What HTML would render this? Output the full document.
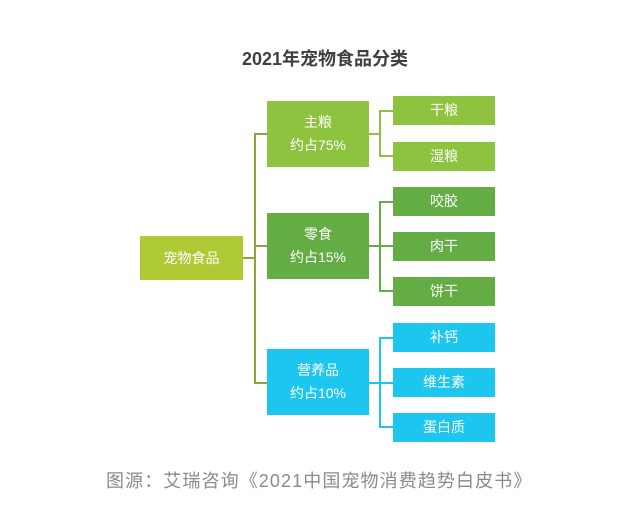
<!DOCTYPE html>
<html><head><meta charset="utf-8"><style>
html,body{margin:0;padding:0;background:#fff;width:629px;height:519px;overflow:hidden;position:relative;font-family:"Liberation Sans","Noto Sans CJK SC",sans-serif}
.b{position:absolute;color:#fff;display:flex;align-items:center;justify-content:center;text-align:center;font-size:14px;line-height:23px}
.l{position:absolute}
</style></head><body>
<div style="position:absolute;left:0;width:629px;top:45px;text-align:center;font-size:18px;font-weight:bold;color:#404040;padding-left:21px;box-sizing:border-box">2021年宠物食品分类</div>

<div class="b" style="left:140px;top:236px;width:103px;height:44px;background:#aecb35">宠物食品</div>

<div class="l" style="left:243px;top:257px;width:12px;height:2px;background:#8aa73a"></div>
<div class="l" style="left:254px;top:133px;width:2px;height:251px;background:#8aa73a"></div>
<div class="l" style="left:254px;top:133px;width:13px;height:2px;background:#8aa73a"></div>
<div class="l" style="left:254px;top:245px;width:13px;height:2px;background:#8aa73a"></div>
<div class="l" style="left:254px;top:382px;width:13px;height:2px;background:#8aa73a"></div>

<div class="b" style="left:267px;top:101px;width:102px;height:66px;background:#8dc33f">主粮<br>约占75%</div>
<div class="b" style="left:267px;top:213px;width:102px;height:66px;background:#64ad45">零食<br>约占15%</div>
<div class="b" style="left:267px;top:349px;width:102px;height:66px;background:#1dc6ee">营养品<br>约占10%</div>

<div class="l" style="left:369px;top:133px;width:11px;height:2px;background:#8dc33f"></div>
<div class="l" style="left:379px;top:110px;width:2px;height:47px;background:#8dc33f"></div>
<div class="l" style="left:379px;top:110px;width:14px;height:2px;background:#8dc33f"></div>
<div class="l" style="left:379px;top:155px;width:14px;height:2px;background:#8dc33f"></div>

<div class="l" style="left:369px;top:245px;width:24px;height:2px;background:#64ad45"></div>
<div class="l" style="left:379px;top:201px;width:2px;height:91px;background:#64ad45"></div>
<div class="l" style="left:379px;top:201px;width:14px;height:2px;background:#64ad45"></div>
<div class="l" style="left:379px;top:290px;width:14px;height:2px;background:#64ad45"></div>

<div class="l" style="left:369px;top:382px;width:24px;height:2px;background:#1dc6ee"></div>
<div class="l" style="left:379px;top:337px;width:2px;height:91px;background:#1dc6ee"></div>
<div class="l" style="left:379px;top:337px;width:14px;height:2px;background:#1dc6ee"></div>
<div class="l" style="left:379px;top:426px;width:14px;height:2px;background:#1dc6ee"></div>

<div class="b" style="left:393px;top:96px;width:102px;height:29px;background:#8dc33f">干粮</div>
<div class="b" style="left:393px;top:142px;width:102px;height:29px;background:#8dc33f">湿粮</div>
<div class="b" style="left:393px;top:187px;width:102px;height:29px;background:#64ad45">咬胶</div>
<div class="b" style="left:393px;top:232px;width:102px;height:29px;background:#64ad45">肉干</div>
<div class="b" style="left:393px;top:277px;width:102px;height:29px;background:#64ad45">饼干</div>
<div class="b" style="left:393px;top:323px;width:102px;height:29px;background:#1dc6ee">补钙</div>
<div class="b" style="left:393px;top:368px;width:102px;height:29px;background:#1dc6ee">维生素</div>
<div class="b" style="left:393px;top:413px;width:102px;height:29px;background:#1dc6ee">蛋白质</div>

<div style="position:absolute;left:106px;top:469px;font-size:18px;letter-spacing:1.1px;line-height:24px;color:#8a8a8a;white-space:nowrap">图源：艾瑞咨询《2021中国宠物消费趋势白皮书》</div>
</body></html>
